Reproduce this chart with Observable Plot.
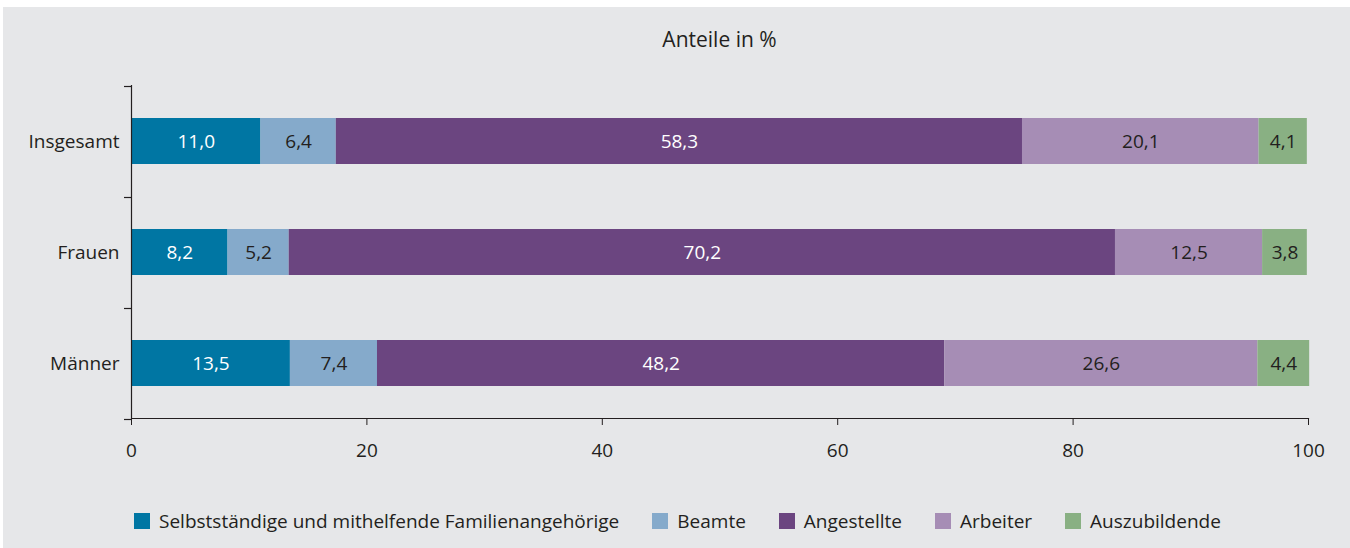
<!DOCTYPE html>
<html lang="de">
<head>
<meta charset="utf-8">
<script src="https://cdn.jsdelivr.net/npm/d3@7"></script>
<script src="https://cdn.jsdelivr.net/npm/@observablehq/plot@0.6"></script>
<style>
  html, body { margin: 0; padding: 0; background: #ffffff; }
  body { width: 1350px; height: 548px; overflow: hidden; position: relative; font-family: "Open Sans", "Noto Sans", sans-serif; color: #231f20; }
  #wrap { position: absolute; left: 3px; top: 7px; width: 1347px; height: 541px; background: #e6e7e9; }
  #title { position: absolute; left: 128px; width: 1177px; top: 19px; text-align: center; font-size: 21px; line-height: 26px; }
  #chart { position: absolute; left: 0; top: 0; }
  #legend { position: absolute; left: 131px; top: 502px; display: flex; align-items: center; font-size: 19px; line-height: 24px; }
  .item { display: flex; align-items: center; margin-right: 33px; }
  .sw { width: 16px; height: 16px; margin-right: 9px; }
</style>
</head>
<body>
<div id="wrap">
  <div id="title"></div>
  <div id="chart"></div>
  <div id="legend"></div>
</div>
<script>
// ---- data ----
const categories = ["Insgesamt", "Frauen", "Männer"];
const series = ["Selbstständige und mithelfende Familienangehörige", "Beamte", "Angestellte", "Arbeiter", "Auszubildende"];
const selbststaendige = [11.0, 8.2, 13.5];
const beamte = [6.4, 5.2, 7.4];
const angestellte = [58.3, 70.2, 48.2];
const arbeiter = [20.1, 12.5, 26.6];
const auszubildende = [4.1, 3.8, 4.4];
const xTicks = [0, 20, 40, 60, 80, 100];
const axisTitle = "Anteile in %";

// ---- styles ----
const colors = ["#0076a3", "#85aacb", "#6b4580", "#a68db5", "#89b083"];
const lightLabelSeries = ["Selbstständige und mithelfende Familienangehörige", "Angestellte"];
const ink = "#231f20";
const fontSize = 19;

const seriesValues = [selbststaendige, beamte, angestellte, arbeiter, auszubildende];
const rows = [];
categories.forEach((group, gi) => {
  series.forEach((s, si) => rows.push({group, series: s, value: seriesValues[si][gi]}));
});
const fmt = v => d3.format(".1f")(v).replace(".", ",");

function bandEdgeTicks(index, scales, values, dims) {
  const y = scales.y;
  const bw = typeof y.bandwidth === "function" ? y.bandwidth() : scales.scales.y.bandwidth;
  const step = typeof y.step === "function" ? y.step() : scales.scales.y.step;
  const pad = (step - bw) / 2;
  const edges = categories.map(c => y(c) - pad).concat([y(categories[categories.length - 1]) + bw + pad]);
  const g = d3.create("svg:g").attr("stroke", ink).attr("stroke-width", 1.2);
  for (const e of edges) {
    g.append("line")
      .attr("x1", dims.marginLeft - 7).attr("x2", dims.marginLeft)
      .attr("y1", Math.round(e) + 0.5).attr("y2", Math.round(e) + 0.5);
  }
  return g.node();
}

const plot = Plot.plot({
  width: 1347,
  height: 480,
  marginLeft: 128,
  marginRight: 42,
  marginTop: 78,
  marginBottom: 69,
  style: {background: "transparent", fontFamily: '"Open Sans", "Noto Sans", sans-serif', fontSize: fontSize + "px", color: ink},
  x: {domain: [0, 100], label: null},
  y: {domain: categories, label: null, paddingInner: 0.59, paddingOuter: 0.295},
  color: {domain: series, range: colors},
  marks: [
    Plot.barX(rows, Plot.stackX({x: "value", y: "group", fill: "series", order: null})),
    Plot.text(rows, Plot.stackX({
      x: "value", y: "group", order: null,
      text: d => fmt(d.value),
      fill: d => lightLabelSeries.includes(d.series) ? "white" : ink,
      fontSize: fontSize
    })),
    Plot.axisX({ticks: xTicks, tickSize: 7, tickPadding: 18, fontSize: fontSize, stroke: ink, fill: ink, label: null}),
    Plot.axisY({tickSize: 0, tickPadding: 12, fontSize: fontSize, fill: ink, label: null}),
    Plot.ruleX([0], {stroke: ink, strokeWidth: 1.2}),
    Plot.frame({anchor: "bottom", stroke: ink, strokeWidth: 1.2}),
    bandEdgeTicks
  ]
});
document.getElementById("chart").appendChild(plot);
document.getElementById("title").textContent = axisTitle;

const legend = document.getElementById("legend");
series.forEach((s, i) => {
  const item = document.createElement("div");
  item.className = "item";
  const sw = document.createElement("div");
  sw.className = "sw";
  sw.style.background = colors[i];
  const t = document.createElement("span");
  t.textContent = s;
  item.appendChild(sw);
  item.appendChild(t);
  legend.appendChild(item);
});
</script>
</body>
</html>
